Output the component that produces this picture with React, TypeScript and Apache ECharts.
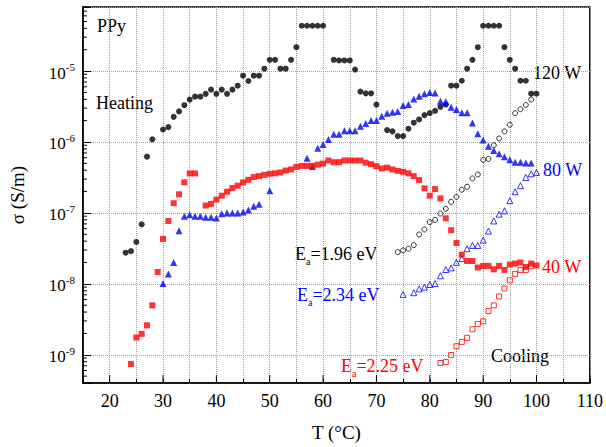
import React, { useEffect, useRef } from 'react';
import * as echarts from 'echarts';

const FONT = '"Liberation Serif", "DejaVu Serif", serif';

// 120 W heating (filled circles)
const heat120T = [23, 24, 25, 26, 27, 28, 30, 31, 32, 33, 34, 35, 36, 37, 38, 39, 40, 41, 42, 43, 44, 45, 46, 47, 48, 49, 50, 51, 52, 53, 54, 55, 56, 57, 58, 59, 60, 62, 63, 64, 65, 66, 67, 68, 69, 70, 72, 73, 74, 75, 76, 77, 78, 79, 80, 81, 82, 83, 84, 85, 86, 87, 88, 89, 90, 91, 92, 93, 94, 95, 96, 97, 98, 99, 100];
const heat120 = [2.75e-8, 2.9e-8, 3.9e-8, 6.9e-8, 6.2e-7, 1.09e-6, 1.5e-6, 1.62e-6, 2.26e-6, 2.7e-6, 3.3e-6, 3.96e-6, 4.36e-6, 4.36e-6, 4.77e-6, 5.47e-6, 4.77e-6, 5.47e-6, 4.77e-6, 5.47e-6, 6.22e-6, 8.6e-6, 7.24e-6, 8.6e-6, 8.6e-6, 1.08e-5, 1.44e-5, 1.44e-5, 1.08e-5, 1.08e-5, 1.44e-5, 2.17e-5, 4.35e-5, 4.35e-5, 4.35e-5, 4.35e-5, 4.35e-5, 1.44e-5, 1.41e-5, 1.41e-5, 1.41e-5, 1.05e-5, 5.13e-6, 4.85e-6, 4.85e-6, 3.37e-6, 1.47e-6, 1.41e-6, 1.21e-6, 1.21e-6, 1.54e-6, 1.87e-6, 2.08e-6, 2.39e-6, 2.55e-6, 2.75e-6, 3.13e-6, 3.37e-6, 6.22e-6, 6.22e-6, 7.3e-6, 1.08e-5, 1.44e-5, 2.17e-5, 4.35e-5, 4.35e-5, 4.35e-5, 4.35e-5, 2.17e-5, 1.44e-5, 1.08e-5, 7.3e-6, 7.3e-6, 4.8e-6, 4.8e-6];

// 120 W cooling (open circles)
const cool120T = [74, 75, 76, 77, 78, 79, 80, 81, 82, 83, 84, 85, 86, 87, 88, 89, 90, 91, 92, 93, 94, 95, 96, 97, 98, 99];
const cool120 = [2.8e-8, 2.96e-8, 3.13e-8, 3.52e-8, 4.97e-8, 5.84e-8, 7.4e-8, 7.98e-8, 9.8e-8, 1.14e-7, 1.43e-7, 1.68e-7, 2.12e-7, 2.34e-7, 3.06e-7, 3.48e-7, 5.6e-7, 5.77e-7, 9.0e-7, 1.12e-6, 1.41e-6, 1.75e-6, 2.55e-6, 2.9e-6, 3.33e-6, 3.96e-6];

// 80 W heating (filled triangles)
const heat80T = [30, 31, 32, 33, 34, 35, 36, 37, 38, 39, 40, 41, 42, 43, 44, 45, 46, 47, 48, 50, 57, 58, 59, 60, 61, 62, 63, 64, 65, 66, 67, 68, 69, 70, 71, 72, 73, 74, 75, 76, 77, 78, 79, 80, 81, 82, 83, 84, 85, 86, 87, 88, 89, 90, 91, 92, 93, 94, 95, 96, 97, 98, 99];
const heat80 = [1.01e-8, 1.38e-8, 2.0e-8, 5.6e-8, 9.0e-8, 9.4e-8, 9.0e-8, 9.0e-8, 8.7e-8, 8.7e-8, 8.5e-8, 9.7e-8, 1.0e-7, 1.0e-7, 1.0e-7, 1.03e-7, 1.1e-7, 1.24e-7, 1.32e-7, 2.06e-7, 5.9e-7, 4.5e-7, 8.15e-7, 9.2e-7, 1.08e-6, 1.29e-6, 1.29e-6, 1.44e-6, 1.44e-6, 1.44e-6, 1.67e-6, 1.82e-6, 2.01e-6, 2.01e-6, 2.31e-6, 2.55e-6, 2.63e-6, 2.69e-6, 3.27e-6, 3.37e-6, 4.05e-6, 4.4e-6, 4.77e-6, 5.0e-6, 4.9e-6, 3.75e-6, 3.7e-6, 3.09e-6, 2.87e-6, 2.58e-6, 2.58e-6, 1.85e-6, 1.31e-6, 1.07e-6, 8.7e-7, 7.6e-7, 6.8e-7, 6.2e-7, 5.6e-7, 5.2e-7, 5.2e-7, 5.07e-7, 5.07e-7];

// 80 W cooling (open triangles)
const cool80T = [75, 77, 78, 79, 80, 81, 82, 83, 84, 85, 86, 87, 88, 89, 90, 91, 92, 93, 94, 95, 96, 97, 98, 99, 100];
const cool80 = [7.1e-9, 7.5e-9, 8.5e-9, 8.98e-9, 9.8e-9, 1.01e-8, 1.3e-8, 1.59e-8, 1.68e-8, 2.01e-8, 2.27e-8, 3.13e-8, 3.48e-8, 3.48e-8, 4.14e-8, 5.54e-8, 7.7e-8, 9.6e-8, 1.07e-7, 1.49e-7, 1.99e-7, 2.42e-7, 3.16e-7, 3.56e-7, 3.72e-7];

// 40 W heating (filled squares)
const heat40T = [24, 25, 26, 27, 28, 29, 30, 31, 32, 33, 34, 35, 36, 38, 39, 40, 41, 42, 43, 44, 45, 46, 47, 48, 49, 50, 51, 52, 53, 54, 55, 56, 57, 58, 59, 60, 61, 62, 63, 64, 65, 66, 67, 68, 69, 70, 71, 72, 73, 74, 75, 76, 77, 78, 79, 80, 81, 82, 83, 84, 85, 86, 87, 88, 89, 90, 91, 92, 93, 94, 95, 96, 97, 98, 99, 100];
const heat40 = [7.4e-10, 1.75e-9, 1.97e-9, 2.6e-9, 4.97e-9, 1.47e-8, 4.3e-8, 7.7e-8, 1.37e-7, 1.83e-7, 2.7e-7, 3.6e-7, 3.6e-7, 1.27e-7, 1.34e-7, 1.54e-7, 1.75e-7, 1.99e-7, 2.24e-7, 2.42e-7, 2.69e-7, 2.93e-7, 3.2e-7, 3.3e-7, 3.44e-7, 3.56e-7, 3.62e-7, 3.72e-7, 3.96e-7, 4.1e-7, 4.45e-7, 4.6e-7, 4.6e-7, 4.6e-7, 4.8e-7, 4.96e-7, 5.48e-7, 5.19e-7, 5.19e-7, 5.48e-7, 5.48e-7, 5.48e-7, 5.48e-7, 5.1e-7, 4.86e-7, 4.56e-7, 4.23e-7, 4.35e-7, 4.1e-7, 3.92e-7, 3.8e-7, 3.62e-7, 3.3e-7, 2.9e-7, 2.22e-7, 1.75e-7, 2.17e-7, 1.6e-7, 8.4e-8, 5.7e-8, 3.76e-8, 2.58e-8, 2.1e-8, 2.1e-8, 1.7e-8, 1.79e-8, 1.79e-8, 1.6e-8, 1.79e-8, 1.57e-8, 1.87e-8, 1.93e-8, 2.0e-8, 1.73e-8, 1.93e-8, 1.82e-8];

// 40 W cooling (open squares)
const cool40T = [82, 83, 84, 85, 86, 87, 88, 89, 90, 91, 92, 93, 94, 95, 96, 97, 98, 99];
const cool40 = [7.65e-10, 7.9e-10, 9.9e-10, 1.32e-9, 1.52e-9, 1.73e-9, 2.29e-9, 2.72e-9, 2.96e-9, 4.13e-9, 4.97e-9, 6.65e-9, 8.6e-9, 1.12e-8, 1.38e-8, 1.57e-8, 1.57e-8, 1.77e-8];

const X_MIN = 15;
const X_MAX = 110;
const Y_MIN = 4e-10;
const Y_MAX = 8e-5;
const xMajorTicks = [20, 30, 40, 50, 60, 70, 80, 90, 100, 110];
const decades = [-10, -9, -8, -7, -6, -5];
const minorMultipliers = [2, 3, 4, 5, 6, 7, 8, 9];

const yMinorTicks: number[] = [];
decades.forEach((d) => {
  minorMultipliers.forEach((m) => {
    const v = m * Math.pow(10, d);
    if (v > Y_MIN * 0.999 && v < Y_MAX * 1.001) yMinorTicks.push(v);
  });
});

const zip = (t: number[], v: number[]) => t.map((x, i) => [x, v[i]]);

export default function App() {
  const ref = useRef<HTMLDivElement>(null);
  useEffect(() => {
    if (!ref.current) return;
    const chart = echarts.init(ref.current, undefined, { renderer: 'svg' });
    const txt = (x: number, y: number, text: string, color: string, rich?: any) => ({
      type: 'text',
      x,
      y,
      style: {
        text,
        fill: color,
        fontFamily: FONT,
        fontSize: 18,
        verticalAlign: 'middle',
        align: 'left',
        rich,
      },
    });
    const eaRich = (color: string) => ({
      E: { fontSize: 18, fontFamily: FONT, color },
      a: { fontSize: 10, fontFamily: FONT, color, padding: [15, 0, 0, 0] },
      t: { fontSize: 18, fontFamily: FONT, color },
    });
    const scatter = (name: string, data: number[][], symbol: string, size: number, color: string, hollow: boolean) => ({
      name,
      type: 'scatter',
      data,
      symbol,
      symbolSize: size,
      itemStyle: hollow
        ? { color: 'rgba(0,0,0,0)', borderColor: color, borderWidth: 1 }
        : { color },
      z: 3,
    });
    chart.setOption({
      animation: false,
      backgroundColor: '#fff',
      grid: {
        left: 79,
        right: 15,
        top: 7,
        bottom: 62,
        show: true,
        borderColor: '#000',
        borderWidth: 1.5,
        backgroundColor: 'transparent',
      },
      xAxis: {
        type: 'value',
        min: X_MIN,
        max: X_MAX,
        interval: 5,
        name: 'T (°C)',
        nameLocation: 'middle',
        nameGap: 40,
        nameTextStyle: { fontFamily: FONT, fontSize: 19, color: '#000' },
        axisLine: { show: true, lineStyle: { color: '#000', width: 1.5 } },
        axisTick: { show: true, inside: true, length: 4, lineStyle: { color: '#000' } },
        axisLabel: {
          fontFamily: FONT,
          fontSize: 18,
          color: '#000',
          margin: 9,
          formatter: (v: number) => (Math.round(v) % 10 === 0 ? String(Math.round(v)) : ''),
        },
        splitLine: { show: true, lineStyle: { color: '#a0a0a0', type: 'dotted', width: 1 } },
      },
      yAxis: {
        type: 'log',
        logBase: 10,
        min: Y_MIN,
        max: Y_MAX,
        name: 'σ (S/m)',
        nameLocation: 'middle',
        nameGap: 56,
        nameRotate: 90,
        nameTextStyle: { fontFamily: FONT, fontSize: 19, color: '#000' },
        axisLine: { show: true, lineStyle: { color: '#000', width: 1.5 } },
        axisTick: { show: true, inside: true, length: 8, lineStyle: { color: '#000' } },
        axisLabel: {
          margin: 8,
          formatter: (v: number) => {
            const e = Math.log10(v);
            const r = Math.round(e);
            if (Math.abs(e - r) > 1e-6) return '';
            return `{b|10}{s|${r}}`;
          },
          rich: {
            b: { fontFamily: FONT, fontSize: 17, color: '#000', padding: [4, 0, 0, 0] },
            s: { fontFamily: FONT, fontSize: 11, color: '#000', padding: [0, 0, 8, 0] },
          },
        },
        splitLine: { show: true, lineStyle: { color: '#a0a0a0', type: 'dotted', width: 1 } },
      },
      series: [
        scatter('120 W heating', zip(heat120T, heat120), 'circle', 6, '#000', false),
        scatter('120 W cooling', zip(cool120T, cool120), 'circle', 5, '#000', true),
        scatter('80 W heating', zip(heat80T, heat80), 'triangle', 7, '#0000ff', false),
        scatter('80 W cooling', zip(cool80T, cool80), 'triangle', 6, '#0000ff', true),
        scatter('40 W heating', zip(heat40T, heat40), 'rect', 6, '#ff0000', false),
        scatter('40 W cooling', zip(cool40T, cool40), 'rect', 5, '#ff0000', true),
        {
          type: 'custom',
          coordinateSystem: 'cartesian2d',
          silent: true,
          z: 4,
          data: yMinorTicks.map((v) => [X_MIN, v]),
          renderItem: (_p: any, api: any) => {
            const p = api.coord([api.value(0), api.value(1)]);
            return {
              type: 'line',
              shape: { x1: p[0], y1: p[1], x2: p[0] + 4, y2: p[1] },
              style: { stroke: '#000', lineWidth: 1 },
            };
          },
        },
        {
          type: 'custom',
          coordinateSystem: 'cartesian2d',
          silent: true,
          z: 4,
          data: xMajorTicks.map((v) => [v, Y_MIN]),
          renderItem: (_p: any, api: any) => {
            const p = api.coord([api.value(0), api.value(1)]);
            return {
              type: 'line',
              shape: { x1: p[0], y1: p[1], x2: p[0], y2: p[1] - 8 },
              style: { stroke: '#000', lineWidth: 1 },
            };
          },
        },
      ],
      graphic: [
        txt(97, 26, 'PPy', '#000'),
        txt(96, 102.5, 'Heating', '#000'),
        txt(533, 73, '120 W', '#000'),
        txt(543, 170, '80 W', '#0000ff'),
        txt(542, 267, '40 W', '#ff0000'),
        txt(491, 356, 'Cooling', '#000'),
        txt(295, 254, '{E|E}{a|a}{t|=1.96 eV}', '#000', eaRich('#000')),
        txt(297, 294.5, '{E|E}{a|a}{t|=2.34 eV}', '#0000ff', eaRich('#0000ff')),
        txt(341, 366, '{E|E}{a|a}{t|=2.25 eV}', '#ff0000', eaRich('#ff0000')),
      ],
    });
    return () => chart.dispose();
  }, []);
  return (
    <div
      ref={ref}
      style={{ position: 'fixed', left: 0, top: 0, width: 606, height: 447, background: '#fff' }}
    />
  );
}
